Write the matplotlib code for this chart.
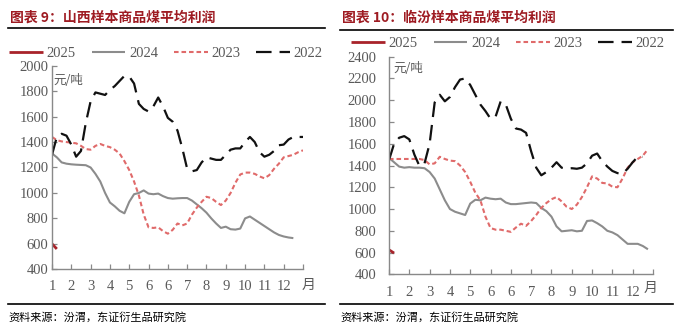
import numpy as np
import matplotlib
matplotlib.use("Agg")
import matplotlib.pyplot as plt
from matplotlib.lines import Line2D

W, H = 677, 330

# ---------------- data (weekly, week index from start of year) ----------------
tick_labels = ["1", "2", "3", "4", "5", "6", "6", "7", "8", "9", "10", "11", "12"]
series_names = ["2025", "2024", "2023", "2022"]

sx_2025 = [600, 560]
sx_2024 = [1310, 1280, 1240, 1230, 1225, 1222, 1220, 1218, 1200, 1150, 1090, 1000, 925,
           895, 860, 840, 930, 990, 1000, 1020, 995, 990, 995, 975, 960, 955, 958, 960,
           960, 940, 910, 880, 845, 800, 760, 725, 735, 715, 712, 720, 800, 815, 790,
           765, 740, 715, 690, 670, 658, 650, 645]
sx_2023 = [1440, 1415, 1405, 1400, 1395, 1390, 1370, 1345, 1340, 1370, 1385, 1370, 1360,
           1340, 1310, 1250, 1180, 1090, 980, 830, 730, 725, 730, 700, 680, 710, 760, 745,
           760, 830, 885, 930, 970, 960, 930, 905, 940, 1000, 1080, 1145, 1160, 1160, 1150,
           1130, 1115, 1140, 1190, 1230, 1280, 1290, 1300, 1320, 1335]
sx_2022 = [1300, 1440, 1465, 1450, 1380, 1285, 1330, 1550, 1720, 1790, 1780, 1770, 1810,
           1840, 1880, 1920, 1915, 1860, 1700, 1660, 1640, 1680, 1750, 1680, 1590, 1560,
           1490, 1350, 1190, 1170, 1180, 1240, 1280, 1270, 1260, 1260, 1300, 1340, 1350,
           1350, 1400, 1440, 1400, 1320, 1285, 1300, 1330, 1375, 1380, 1420, 1440, 1440, 1440]

lf_2025 = [625, 595]
lf_2024 = [1470, 1430, 1390, 1380, 1385, 1380, 1380, 1375, 1340, 1280, 1180, 1080, 1000,
           975, 960, 945, 1050, 1085, 1080, 1105, 1095, 1090, 1095, 1060, 1045, 1045, 1050,
           1055, 1060, 1055, 1010, 980, 930, 840, 795, 800, 805, 795, 800, 890, 895, 870,
           840, 800, 785, 760, 720, 680, 680, 680, 660, 630]
lf_2023 = [1460, 1460, 1460, 1460, 1460, 1460, 1460, 1450, 1410, 1420, 1480, 1460, 1445,
           1440, 1400, 1340, 1250, 1150, 1080, 930, 825, 810, 810, 800, 790, 830, 865, 845,
           890, 945, 1010, 1055, 1090, 1110, 1070, 1020, 1000, 1040, 1110, 1200, 1300, 1280,
           1240, 1235, 1205, 1200, 1280, 1380, 1430, 1460, 1490, 1550]
lf_2022 = [1450, 1600, 1655, 1670, 1640, 1500, 1395, 1420, 1600, 1980, 2050, 1990, 2030,
           2120, 2190, 2200, 2140, 2050, 1960, 1900, 1830, 1850, 1990, 1960, 1830, 1740,
           1730, 1700, 1530, 1380, 1310, 1340, 1380, 1430, 1380, 1370, 1375, 1370, 1380,
           1420, 1490, 1510, 1440, 1390, 1350, 1330, 1325, 1370, 1430, 1480, 1480]

# ---------------- styling ----------------
CJK = ["Noto Sans CJK SC", "DejaVu Sans"]
SERIF = ["Liberation Serif", "DejaVu Serif"]
TITLE_C = "#9E1B22"
TICK_C = "#595959"
AX_C = "#898989"

styles = {
    "2025": dict(color="#A8232A", lw=2.0, ls="-"),
    "2024": dict(color="#8C8C8C", lw=1.5, ls="-"),
    "2023": dict(color="#E06A6A", lw=1.5, ls=(0, (2.2, 1.4))),
    "2022": dict(color="#111111", lw=1.6, ls=(0, (7.0, 3.6))),
}

fig = plt.figure(figsize=(W / 100, H / 100), dpi=100)


def fx(px):
    return px / W


def fy(py):
    return 1 - py / H


def panel(left, right, top, bottom, ymax, ystep, data, title, tx, line_x0, line_x1,
          title_line_y, legend_c, legend_y, unit_xy, month_xy, ypad, x_label_y):
    ax = fig.add_axes([fx(left), fy(bottom), fx(right - left), (bottom - top) / H])
    handles = []
    for name, vals in zip(series_names, data):
        st = styles[name]
        x = np.arange(len(vals))
        h, = ax.plot(x, vals, color=st["color"], lw=st["lw"], linestyle=st["ls"],
                     solid_joinstyle="round", dash_joinstyle="round",
                     solid_capstyle="butt", label=name)
        handles.append(h)
    ax.set_xlim(0, 52)
    ax.set_ylim(400, ymax)
    ax.set_yticks(np.arange(400, ymax + 1, ystep))
    ax.set_xticks(np.arange(0, 53, 4))
    ax.set_xticklabels(tick_labels + [""])
    for s in ["top", "right"]:
        ax.spines[s].set_visible(False)
    for s in ["left", "bottom"]:
        ax.spines[s].set_color(AX_C)
        ax.spines[s].set_linewidth(1.0)
    ax.tick_params(axis="both", direction="in", length=3.5, width=0.9, color=AX_C,
                   labelcolor=TICK_C, labelsize=10.5)
    ax.tick_params(axis="y", pad=ypad)
    ax.tick_params(axis="x", pad=x_label_y)
    for lab in ax.get_xticklabels() + ax.get_yticklabels():
        lab.set_family(SERIF)
    ax.patch.set_alpha(0)

    # title + rules
    fig.text(fx(tx), fy(18), title, family=CJK, fontsize=10, fontweight="bold",
             color=TITLE_C, va="center", ha="left")
    fig.add_artist(Line2D([fx(line_x0), fx(line_x1)], [fy(title_line_y)] * 2,
                          color="black", lw=1.2))
    fig.add_artist(Line2D([fx(line_x0), fx(line_x1)], [fy(304)] * 2,
                          color="black", lw=1.2))
    fig.text(fx(line_x0), fy(317), "资料来源：汾渭，东证衍生品研究院", family=CJK,
             fontsize=8, color="black", va="center", ha="left")
    # unit and month labels
    fig.text(fx(unit_xy[0]), fy(unit_xy[1]), "元/吨", family=CJK, fontsize=9,
             color=TICK_C, va="center", ha="left")
    fig.text(fx(month_xy[0]), fy(month_xy[1]), "月", family=CJK, fontsize=10,
             color=TICK_C, va="center", ha="center")
    # legend
    leg = fig.legend(handles=handles, labels=series_names, ncol=4, loc="center",
                     bbox_to_anchor=(fx(legend_c), fy(legend_y)), frameon=False,
                     prop=dict(family=SERIF, size=10.5), handlelength=2.3,
                     handletextpad=0.25, columnspacing=1.1, borderpad=0)
    for t in leg.get_texts():
        t.set_color(TICK_C)
    return ax


panel(52, 303, 65.7, 269.3, 2000, 200, [sx_2025, sx_2024, sx_2023, sx_2022],
      "图表 9：山西样本商品煤平均利润", 10, 8, 325, 28, 166, 53, (53, 81), (309, 285),
      2.5, 7.5)
panel(389, 653, 56.7, 274.3, 2400, 200, [lf_2025, lf_2024, lf_2023, lf_2022],
      "图表 10：临汾样本商品煤平均利润", 342, 340, 673, 30, 508, 43, (393, 68), (651, 288),
      9.0, 8.5)

fig.savefig("out.png", dpi=100)
